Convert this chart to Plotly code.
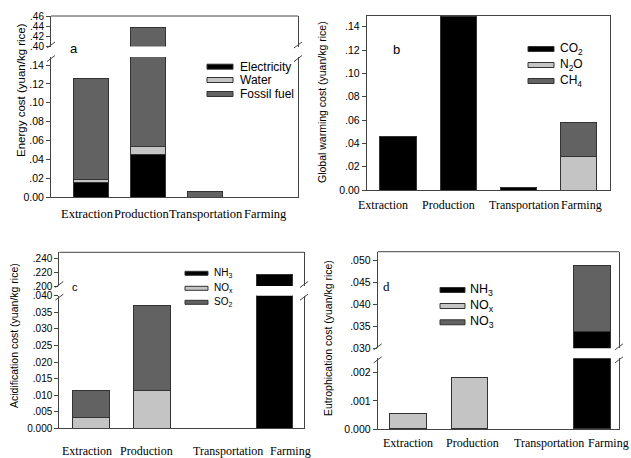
import plotly.graph_objects as go

W, H = 631, 458

categories = ["Extraction", "Production", "Transportation", "Farming"]

# (a) Energy cost
energy_names = ["Electricity", "Water", "Fossil fuel"]
energy_electricity = [0.015, 0.0455, None, None]
energy_water = [0.004, 0.0085, None, None]
energy_fossil = [0.107, 0.384, 0.0055, None]

# (b) Global warming cost
gw_names = ["CO<sub>2</sub>", "N<sub>2</sub>O", "CH<sub>4</sub>"]
gw_co2 = [0.0457, 0.1487, 0.0023, None]
gw_n2o = [None, None, None, 0.029]
gw_ch4 = [None, None, None, 0.0287]

# (c) Acidification cost
acid_names = ["NH<sub>3</sub>", "NO<sub>x</sub>", "SO<sub>2</sub>"]
acid_nh3 = [None, None, None, 0.217]
acid_nox = [0.0032, 0.0113, None, None]
acid_so2 = [0.0081, 0.0259, None, None]

# (d) Eutrophication cost
eu_names = ["NH<sub>3</sub>", "NO<sub>x</sub>", "NO<sub>3</sub>"]
eu_nh3 = [None, None, None, 0.0338]
eu_nox = [0.00056, 0.00183, None, None]
eu_no3 = [None, None, None, 0.0151]

# tick labels
a_low_ticks = [0, 0.02, 0.04, 0.06, 0.08, 0.10, 0.12, 0.14]
a_low_text = ["0.00", ".02", ".04", ".06", ".08", ".10", ".12", ".14"]
a_up_ticks = [0.40, 0.42, 0.44, 0.46]
a_up_text = [".40", ".42", ".44", ".46"]
b_ticks = [0, 0.02, 0.04, 0.06, 0.08, 0.10, 0.12, 0.14]
b_text = ["0.00", ".02", ".04", ".06", ".08", ".10", ".12", ".14"]
c_low_ticks = [0, 0.005, 0.010, 0.015, 0.020, 0.025, 0.030, 0.035, 0.040]
c_low_text = ["0.000", ".005", ".010", ".015", ".020", ".025", ".030", ".035", ".040"]
c_up_ticks = [0.200, 0.220, 0.240]
c_up_text = [".200", ".220", ".240"]
d_low_ticks = [0, 0.001, 0.002]
d_low_text = ["0.000", ".001", ".002"]
d_up_ticks = [0.030, 0.035, 0.040, 0.045, 0.050]
d_up_text = [".030", ".035", ".040", ".045", ".050"]

titles = ["Energy cost (yuan/kg rice)", "Global warming cost (yuan/kg rice)",
          "Acidification cost (yuan/kg rice)", "Eutrophication cost (yuan/kg rice)"]
panel_letters = ["a", "b", "c", "d"]

COLORS = ["#000000", "#c4c4c4", "#626262"]
EDGE = "#333333"
AXC = "#444444"
SANS = "Liberation Sans, Arial, sans-serif"
SERIF = "Liberation Serif, Times New Roman, serif"


def fx(px):
    return px / W


def fy(py):
    return 1 - py / H


panels = [
    dict(series=[energy_electricity, energy_water, energy_fossil], names=energy_names,
         x=(51, 298), xr=(-0.70, 3.63), xi=1, yl=1, yu=2,
         low=(57, 197), low_r=(0, 0.1485), low_t=(a_low_ticks, a_low_text),
         up=(16, 46.5), up_r=(0.40, 0.4605), up_t=(a_up_ticks, a_up_text),
         tickfs=10.5, uptickfs=10,
         cat_x=[87, 142, 206, 265], cat_y=214, catfs=12.5,
         title_pos=(21, 90), title_fs=11.5, letter_pos=(74, 49), letter_fs=13, letter_font=SANS,
         leg_rect=(207, 233), leg_h=5, leg_ys=[66.7, 80, 94], leg_tx=237.5, leg_fs=12),
    dict(series=[gw_co2, gw_n2o, gw_ch4], names=gw_names,
         x=(366.7, 610), xr=(-0.52, 3.52), xi=2, yl=3, yu=None,
         low=(15.7, 190), low_r=(0, 0.1495), low_t=(b_ticks, b_text),
         tickfs=10.5, uptickfs=10.5,
         cat_x=[383, 448, 523.5, 581], cat_y=205, catfs=12,
         title_pos=(322, 102), title_fs=10.5, letter_pos=(396.7, 49.3), letter_fs=13, letter_font=SANS,
         leg_rect=(528, 554), leg_h=5, leg_ys=[49, 65, 81], leg_tx=557.7, leg_fs=12),
    dict(series=[acid_nh3, acid_nox, acid_so2], names=acid_names,
         x=(59.3, 304), xr=(-0.52, 3.48), xi=3, yl=4, yu=5,
         low=(295.7, 428.3), low_r=(0, 0.04002), low_t=(c_low_ticks, c_low_text),
         up=(252.3, 286), up_r=(0.200, 0.2486), up_t=(c_up_ticks, c_up_text),
         tickfs=10, uptickfs=10,
         cat_x=[86.7, 146.7, 228, 290.8], cat_y=450.5, catfs=12,
         title_pos=(14, 336), title_fs=10.5, letter_pos=(75, 286.7), letter_fs=11, letter_font=SANS,
         leg_rect=(185, 208), leg_h=4, leg_ys=[273.3, 288.3, 302.3], leg_tx=212, leg_fs=10),
    dict(series=[eu_nh3, eu_nox, eu_no3], names=eu_names,
         x=(377.7, 619), xr=(-0.50, 3.44), xi=4, yl=6, yu=7,
         low=(358.3, 429), low_r=(0, 0.00251), low_t=(d_low_ticks, d_low_text),
         up=(251.7, 348.3), up_r=(0.030, 0.052), up_t=(d_up_ticks, d_up_text),
         tickfs=10.5, uptickfs=10.5,
         cat_x=[408, 472.5, 549, 608], cat_y=443, catfs=12,
         title_pos=(328, 338), title_fs=10.5, letter_pos=(386.7, 286), letter_fs=13, letter_font=SERIF,
         leg_rect=(440, 465), leg_h=5, leg_ys=[290, 306, 322.3], leg_tx=468, leg_fs=12.5),
]

fig = go.Figure()
layout = {}
shapes = []
annotations = []


def axname(kind, i):
    return kind + ("" if i == 1 else str(i))


def yaxis_cfg(dom, rng, ticks, anchor, fs):
    return dict(domain=[fy(dom[1]), fy(dom[0])], range=list(rng), anchor=anchor,
                tickmode="array", tickvals=ticks[0], ticktext=ticks[1],
                showline=True, linecolor=AXC, linewidth=1, mirror=True,
                ticks="outside", ticklen=4, tickcolor=AXC, tickwidth=1,
                showgrid=False, zeroline=False, automargin=False,
                tickfont=dict(family=SANS, size=fs, color="#000"))


def slash(xc, yc):
    return dict(type="line", xref="paper", yref="paper",
                x0=fx(xc - 4), y0=fy(yc + 3), x1=fx(xc + 4), y1=fy(yc - 3),
                line=dict(color=AXC, width=1))


for p in panels:
    xa = axname("x", p["xi"])
    yl = axname("y", p["yl"])
    yaxes = [yl]
    if p["yu"]:
        yaxes.append(axname("y", p["yu"]))
    for ya in yaxes:
        for vals, name, col in zip(p["series"], p["names"], COLORS):
            fig.add_trace(go.Bar(x=categories, y=vals, name=name, xaxis=xa, yaxis=ya,
                                 marker=dict(color=col, line=dict(color=EDGE, width=1)),
                                 showlegend=False, hoverinfo="skip"))
    layout[axname("xaxis", p["xi"])] = dict(
        domain=[fx(p["x"][0]), fx(p["x"][1])], range=list(p["xr"]), anchor=yl,
        showline=True, linecolor=AXC, linewidth=1, mirror=(p["yu"] is None),
        ticks="", showgrid=False, zeroline=False, showticklabels=False, automargin=False)
    layout[axname("yaxis", p["yl"])] = yaxis_cfg(p["low"], p["low_r"], p["low_t"], xa, p["tickfs"])
    if p["yu"]:
        layout[axname("yaxis", p["yu"])] = yaxis_cfg(p["up"], p["up_r"], p["up_t"], xa, p["uptickfs"])
        # top frame line
        shapes.append(dict(type="line", xref="paper", yref="paper",
                           x0=fx(p["x"][0]), x1=fx(p["x"][1]), y0=fy(p["up"][0]), y1=fy(p["up"][0]),
                           line=dict(color=AXC, width=1)))
        for xc in p["x"]:
            shapes.append(slash(xc, p["up"][1] - 1.5))
            shapes.append(slash(xc, p["low"][0] + 1.5))
    # category labels
    for cat, cx in zip(categories, p["cat_x"]):
        annotations.append(dict(text=cat, xref="paper", yref="paper",
                                x=fx(cx), y=fy(p["cat_y"]), showarrow=False,
                                xanchor="center", yanchor="middle",
                                font=dict(family=SERIF, size=p["catfs"], color="#000")))
    # y title
    annotations.append(dict(text=titles[p["xi"] - 1], xref="paper", yref="paper",
                            x=fx(p["title_pos"][0]), y=fy(p["title_pos"][1]), textangle=-90,
                            showarrow=False, xanchor="center", yanchor="middle",
                            font=dict(family=SANS, size=p["title_fs"], color="#000")))
    # panel letter
    annotations.append(dict(text=panel_letters[p["xi"] - 1], xref="paper", yref="paper",
                            x=fx(p["letter_pos"][0]), y=fy(p["letter_pos"][1]),
                            showarrow=False, xanchor="center", yanchor="middle",
                            font=dict(family=p["letter_font"], size=p["letter_fs"], color="#000")))
    # legend
    for name, col, yc in zip(p["names"], COLORS, p["leg_ys"]):
        shapes.append(dict(type="rect", xref="paper", yref="paper",
                           x0=fx(p["leg_rect"][0]), x1=fx(p["leg_rect"][1]),
                           y0=fy(yc + p["leg_h"] / 2), y1=fy(yc - p["leg_h"] / 2),
                           fillcolor=col, line=dict(color=EDGE, width=1)))
        annotations.append(dict(text=name, xref="paper", yref="paper",
                                x=fx(p["leg_tx"]), y=fy(yc), showarrow=False,
                                xanchor="left", yanchor="middle",
                                font=dict(family=SANS, size=p["leg_fs"], color="#000")))

fig.update_layout(
    width=W, height=H, margin=dict(l=0, r=0, t=0, b=0, autoexpand=False),
    paper_bgcolor="white", plot_bgcolor="white",
    barmode="stack", bargap=0.4, showlegend=False, hovermode=False,
    shapes=shapes, annotations=annotations,
    **layout)

fig.write_html("out.html", config={"displayModeBar": False, "staticPlot": True},
               post_script="document.body.style.margin='0';document.body.style.padding='0';"
                           "document.body.style.overflow='hidden';")
